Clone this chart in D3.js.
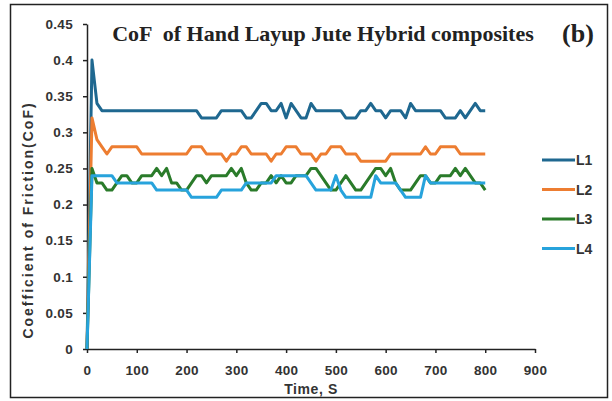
<!DOCTYPE html>
<html>
<head>
<meta charset="utf-8">
<script src="https://cdn.jsdelivr.net/npm/d3@7"></script>
<style>
  body { margin: 0; background: #fff; }
  svg { display: block; }
  .tick text { font-family: "Liberation Sans", Arial, sans-serif; font-weight: bold; font-size: 13.5px; fill: #333; letter-spacing: 0.3px; }
</style>
</head>
<body>
<div id="chart"></div>
<script>
// time in seconds, one reading every 10 s
var times = d3.range(0, 801, 10);

var L1 = [0, 0.40, 0.34, 0.33, 0.33, 0.33, 0.33, 0.33, 0.33, 0.33,
          0.33, 0.33, 0.33, 0.33, 0.33, 0.33, 0.33, 0.33, 0.33, 0.33,
          0.33, 0.33, 0.33, 0.32, 0.32, 0.32, 0.32, 0.33, 0.33, 0.33,
          0.33, 0.33, 0.32, 0.32, 0.33, 0.34, 0.34, 0.33, 0.33, 0.34,
          0.32, 0.34, 0.33, 0.32, 0.32, 0.34, 0.33, 0.33, 0.33, 0.33,
          0.33, 0.33, 0.32, 0.32, 0.32, 0.33, 0.33, 0.34, 0.33, 0.33,
          0.32, 0.33, 0.33, 0.33, 0.32, 0.34, 0.33, 0.33, 0.33, 0.33,
          0.33, 0.33, 0.32, 0.32, 0.32, 0.33, 0.32, 0.33, 0.34, 0.33,
          0.33];
var L2 = [0, 0.32, 0.29, 0.28, 0.27, 0.28, 0.28, 0.28, 0.28, 0.28,
          0.28, 0.27, 0.27, 0.27, 0.27, 0.27, 0.27, 0.27, 0.27, 0.27,
          0.27, 0.28, 0.28, 0.28, 0.27, 0.27, 0.27, 0.27, 0.26, 0.27,
          0.27, 0.28, 0.28, 0.27, 0.27, 0.27, 0.27, 0.26, 0.27, 0.27,
          0.28, 0.28, 0.28, 0.27, 0.27, 0.27, 0.26, 0.27, 0.27, 0.28,
          0.28, 0.28, 0.27, 0.27, 0.27, 0.26, 0.26, 0.26, 0.26, 0.26,
          0.26, 0.27, 0.27, 0.27, 0.27, 0.27, 0.27, 0.27, 0.28, 0.27,
          0.27, 0.28, 0.28, 0.28, 0.28, 0.27, 0.27, 0.27, 0.27, 0.27,
          0.27];
var L3 = [0, 0.25, 0.23, 0.23, 0.22, 0.22, 0.23, 0.24, 0.24, 0.23,
          0.23, 0.24, 0.24, 0.24, 0.25, 0.24, 0.25, 0.23, 0.23, 0.22,
          0.22, 0.23, 0.24, 0.24, 0.23, 0.24, 0.24, 0.24, 0.24, 0.25,
          0.24, 0.25, 0.23, 0.22, 0.22, 0.23, 0.23, 0.24, 0.23, 0.24,
          0.23, 0.23, 0.24, 0.24, 0.24, 0.25, 0.25, 0.24, 0.23, 0.22,
          0.22, 0.23, 0.24, 0.23, 0.22, 0.22, 0.23, 0.24, 0.25, 0.25,
          0.24, 0.25, 0.23, 0.22, 0.22, 0.22, 0.23, 0.24, 0.24, 0.23,
          0.23, 0.24, 0.24, 0.24, 0.25, 0.24, 0.25, 0.24, 0.23, 0.23,
          0.22];
var L4 = [0, 0.24, 0.24, 0.24, 0.24, 0.24, 0.23, 0.23, 0.23, 0.23,
          0.23, 0.23, 0.23, 0.23, 0.22, 0.22, 0.22, 0.22, 0.22, 0.22,
          0.22, 0.21, 0.21, 0.21, 0.21, 0.21, 0.21, 0.22, 0.22, 0.22,
          0.22, 0.22, 0.23, 0.23, 0.23, 0.23, 0.23, 0.23, 0.24, 0.24,
          0.24, 0.24, 0.24, 0.24, 0.24, 0.23, 0.22, 0.22, 0.22, 0.22,
          0.24, 0.22, 0.21, 0.21, 0.21, 0.21, 0.21, 0.21, 0.24, 0.23,
          0.23, 0.23, 0.23, 0.22, 0.21, 0.21, 0.21, 0.21, 0.24, 0.23,
          0.23, 0.23, 0.23, 0.23, 0.23, 0.23, 0.23, 0.23, 0.23, 0.23,
          0.23];

var seriesNames = ["L1", "L2", "L3", "L4"];
var seriesVals = [L1, L2, L3, L4];
var colorList = ["#1f6890", "#ed7d31", "#2a7b2a", "#27a3dc"];

var xTicks = [0, 100, 200, 300, 400, 500, 600, 700, 800, 900];
var yTicks = [0, 0.05, 0.1, 0.15, 0.2, 0.25, 0.3, 0.35, 0.4, 0.45];
var yTickLabels = ["0", "0.05", "0.1", "0.15", "0.2", "0.25", "0.3", "0.35", "0.4", "0.45"];

var width = 612, height = 401;
var margin = {left: 87, right: 77, top: 24, bottom: 52};

var svg = d3.select("#chart").append("svg")
    .attr("width", width)
    .attr("height", height);

// outer frame
svg.append("rect")
    .attr("x", 10.5).attr("y", 4.5)
    .attr("width", 597).attr("height", 393)
    .attr("fill", "none")
    .attr("stroke", "#222")
    .attr("stroke-width", 1.5);

var xscale = d3.scaleLinear()
    .domain([0, 900])
    .range([margin.left, width - margin.right]);
var yscale = d3.scaleLinear()
    .domain([0, 0.45])
    .range([height - margin.bottom, margin.top]);

svg.append("g")
    .attr("class", "xaxis")
    .attr("transform", "translate(0," + yscale(0) + ")")
    .call(d3.axisBottom(xscale).tickValues(xTicks).tickSize(4).tickSizeOuter(0).tickPadding(12))
    .call(g => g.selectAll("line, path").attr("stroke", "#222").attr("stroke-width", 1.5));

svg.append("g")
    .attr("class", "yaxis")
    .attr("transform", "translate(" + xscale(0) + ",0)")
    .call(d3.axisLeft(yscale).tickValues(yTicks).tickSize(4).tickSizeOuter(0).tickPadding(10)
        .tickFormat((d, i) => yTickLabels[i]))
    .call(g => g.selectAll("line, path").attr("stroke", "#222").attr("stroke-width", 1.5));

var line = d3.line()
    .x((d, i) => xscale(times[i]))
    .y(d => yscale(d));

seriesVals.forEach((vals, j) => {
    svg.append("path")
        .datum(vals)
        .attr("d", line)
        .attr("fill", "none")
        .attr("stroke", colorList[j])
        .attr("stroke-width", 3)
        .attr("stroke-linejoin", "round");
});

// title
svg.append("text")
    .attr("x", 323).attr("y", 41)
    .attr("text-anchor", "middle")
    .style("font-family", "'Liberation Serif', 'Times New Roman', serif")
    .style("font-weight", "bold")
    .style("font-size", "22px")
    .attr("fill", "#222")
    .attr("xml:space", "preserve")
    .text("CoF  of Hand Layup Jute Hybrid composites");

svg.append("text")
    .attr("x", 578).attr("y", 42)
    .attr("text-anchor", "middle")
    .style("font-family", "'Liberation Serif', 'Times New Roman', serif")
    .style("font-weight", "bold")
    .style("font-size", "26px")
    .attr("fill", "#222")
    .text("(b)");

// axis titles
svg.append("text")
    .attr("x", 311).attr("y", 394)
    .attr("text-anchor", "middle")
    .style("font-family", "'Liberation Sans', Arial, sans-serif")
    .style("font-weight", "bold")
    .style("font-size", "14px")
    .style("letter-spacing", "0.6px")
    .attr("fill", "#333")
    .text("Time, S");

svg.append("text")
    .attr("transform", "rotate(-90)")
    .attr("x", -220).attr("y", 33)
    .attr("text-anchor", "middle")
    .style("font-family", "'Liberation Sans', Arial, sans-serif")
    .style("font-weight", "bold")
    .style("font-size", "14px")
    .style("letter-spacing", "2px")
    .attr("fill", "#333")
    .text("Coefficient of Friction(CoF)");

// legend
var legend = svg.append("g").attr("class", "legend");
seriesNames.forEach((name, j) => {
    var ly = 160 + j * 29.5;
    legend.append("line")
        .attr("x1", 542).attr("x2", 575)
        .attr("y1", ly).attr("y2", ly)
        .attr("stroke", colorList[j])
        .attr("stroke-width", 3);
    legend.append("text")
        .attr("x", 576).attr("y", ly + 5)
        .style("font-family", "'Liberation Sans', Arial, sans-serif")
        .style("font-weight", "bold")
        .style("font-size", "14px")
        .attr("fill", "#333")
        .text(name);
});
</script>
</body>
</html>
